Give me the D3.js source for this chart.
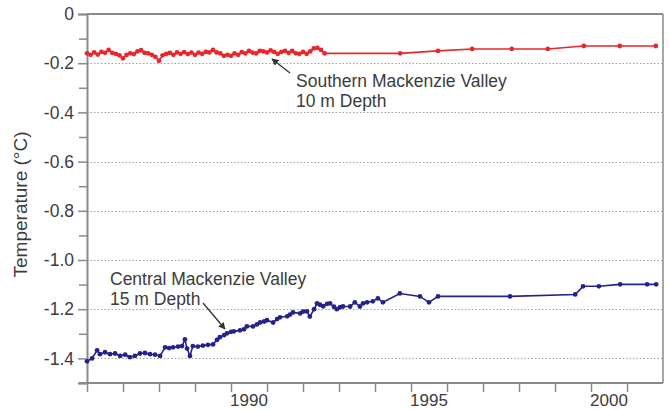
<!DOCTYPE html>
<html>
<head>
<meta charset="utf-8">
<script src="https://cdn.jsdelivr.net/npm/d3@7"></script>
<style>
body { margin: 0; background: #fff; }
svg { display: block; font-family: "Liberation Sans", Arial, sans-serif; }
</style>
</head>
<body>
<div class="container"></div>
<script>
// Southern Mackenzie Valley, 10 m depth
var southYears = [1986.0, 1986.1, 1986.2, 1986.3, 1986.4, 1986.5, 1986.6, 1986.7, 1986.8, 1986.9,
    1987.0, 1987.1, 1987.2, 1987.3, 1987.4, 1987.5, 1987.6, 1987.7, 1987.8, 1987.9,
    1988.0, 1988.1, 1988.2, 1988.3, 1988.4, 1988.5, 1988.6, 1988.7, 1988.8, 1988.9,
    1989.0, 1989.1, 1989.2, 1989.3, 1989.4, 1989.5, 1989.6, 1989.7, 1989.8, 1989.9,
    1990.0, 1990.1, 1990.2, 1990.3, 1990.4, 1990.5, 1990.6, 1990.7, 1990.8, 1990.9,
    1991.0, 1991.1, 1991.2, 1991.3, 1991.4, 1991.5, 1991.6, 1991.7, 1991.8, 1991.9,
    1992.0, 1992.1, 1992.2, 1992.3, 1992.4, 1992.5, 1992.6,
    1994.7, 1995.75, 1996.7, 1997.8, 1998.8, 1999.8, 2000.8, 2001.8];
var southTemps = [-0.160, -0.166, -0.156, -0.165, -0.154, -0.158, -0.146, -0.158, -0.162, -0.168,
    -0.180, -0.166, -0.160, -0.163, -0.152, -0.147, -0.158, -0.160, -0.166, -0.174,
    -0.190, -0.168, -0.162, -0.158, -0.166, -0.156, -0.162, -0.155, -0.163, -0.157,
    -0.166, -0.157, -0.162, -0.154, -0.156, -0.146, -0.156, -0.160, -0.170, -0.166,
    -0.170, -0.160, -0.166, -0.155, -0.160, -0.150, -0.157, -0.160, -0.150, -0.152,
    -0.156, -0.148, -0.154, -0.162, -0.154, -0.150, -0.158, -0.150, -0.160, -0.162,
    -0.154, -0.162, -0.152, -0.140, -0.138, -0.146, -0.160,
    -0.160, -0.150, -0.142, -0.142, -0.142, -0.130, -0.130, -0.130];

// Central Mackenzie Valley, 15 m depth
var centralYears = [1986.00, 1986.14, 1986.28, 1986.36, 1986.50, 1986.64, 1986.78, 1986.92, 1987.06, 1987.19,
    1987.33, 1987.47, 1987.61, 1987.75, 1987.89, 1988.03, 1988.17, 1988.28, 1988.39, 1988.53,
    1988.64, 1988.72, 1988.78, 1988.86, 1988.94, 1989.08, 1989.22, 1989.36, 1989.50, 1989.61,
    1989.69, 1989.81, 1989.89, 1990.00, 1990.08, 1990.25, 1990.36, 1990.44, 1990.61, 1990.72,
    1990.81, 1990.92, 1991.00, 1991.17, 1991.28, 1991.36, 1991.56, 1991.64, 1991.72, 1991.92,
    1992.00, 1992.11, 1992.19, 1992.31, 1992.39, 1992.47, 1992.56, 1992.67, 1992.75, 1992.86,
    1992.94, 1993.03, 1993.11, 1993.31, 1993.44, 1993.58, 1993.67, 1993.78, 1993.94, 1994.08,
    1994.22, 1994.69, 1995.25, 1995.50, 1995.75, 1997.75, 1999.56, 1999.78, 2000.22, 2000.81,
    2001.56, 2001.81];
var centralTemps = [-1.412, -1.400, -1.367, -1.383, -1.375, -1.383, -1.380, -1.390, -1.385, -1.395,
    -1.390, -1.380, -1.378, -1.383, -1.385, -1.390, -1.355, -1.358, -1.355, -1.352,
    -1.350, -1.323, -1.360, -1.390, -1.350, -1.352, -1.348, -1.345, -1.343, -1.325,
    -1.314, -1.305, -1.298, -1.292, -1.290, -1.286, -1.282, -1.270, -1.270, -1.262,
    -1.254, -1.250, -1.245, -1.254, -1.240, -1.233, -1.229, -1.222, -1.213, -1.217,
    -1.210, -1.209, -1.230, -1.200, -1.176, -1.182, -1.188, -1.178, -1.176, -1.190,
    -1.200, -1.192, -1.189, -1.189, -1.172, -1.189, -1.176, -1.172, -1.168, -1.156,
    -1.172, -1.136, -1.148, -1.172, -1.148, -1.148, -1.140, -1.107, -1.107, -1.099,
    -1.099, -1.099];

var yMajorTicks = [0, -0.2, -0.4, -0.6, -0.8, -1.0, -1.2, -1.4];
var yTickLabels = ["0", "-0.2", "-0.4", "-0.6", "-0.8", "-1.0", "-1.2", "-1.4"];
var yMinorTicks = [-0.1, -0.3, -0.5, -0.7, -0.9, -1.1, -1.3, -1.5];
var xYearTicks = [1986, 1987, 1988, 1989, 1990, 1991, 1992, 1993, 1994, 1995, 1996, 1997, 1998, 1999, 2000, 2001];
var xLabelYears = [1990, 1995, 2000];
var xTickLabels = ["1990", "1995", "2000"];

const WIDTH = 669;
const HEIGHT = 410;
const LEFT = 87, TOP = 14, RIGHT = 663, BOTTOM = 383;

var svg = d3.select('.container').append('svg')
    .attr('width', WIDTH)
    .attr('height', HEIGHT);

var xScale = d3.scaleLinear().domain([1986, 2002]).range([LEFT, RIGHT]);
var yScale = d3.scaleLinear().domain([-1.5, 0]).range([BOTTOM, TOP]);

var axisColor = '#8a8a8a';
var textColor = '#3c3c3c';

// dotted grid
svg.append('g').selectAll('line')
    .data(yMajorTicks.slice(1))
    .enter().append('line')
    .attr('x1', LEFT).attr('x2', RIGHT)
    .attr('y1', function (d) { return Math.round(yScale(d)) + 0.5; })
    .attr('y2', function (d) { return Math.round(yScale(d)) + 0.5; })
    .attr('stroke', '#a0a0a0')
    .attr('stroke-width', 1)
    .attr('stroke-dasharray', '1.5,2');

// frame top / right
svg.append('line').attr('x1', LEFT).attr('x2', RIGHT).attr('y1', TOP).attr('y2', TOP)
    .attr('stroke', axisColor).attr('stroke-width', 2);
svg.append('line').attr('x1', RIGHT).attr('x2', RIGHT).attr('y1', TOP).attr('y2', BOTTOM)
    .attr('stroke', axisColor).attr('stroke-width', 1.5);

var yAxis = svg.append('g')
    .attr('transform', 'translate(' + LEFT + ',0)')
    .call(d3.axisLeft(yScale).tickValues(yMajorTicks).tickSize(9).tickPadding(4)
        .tickFormat(function (d, i) { return yTickLabels[i]; }));
var yMinor = svg.append('g')
    .attr('transform', 'translate(' + LEFT + ',0)')
    .call(d3.axisLeft(yScale).tickValues(yMinorTicks).tickSize(8).tickFormat(''));

var xAxis = svg.append('g')
    .attr('transform', 'translate(0,' + BOTTOM + ')')
    .call(d3.axisBottom(xScale).tickValues(xYearTicks).tickSize(9).tickFormat(''));

[yAxis, yMinor, xAxis].forEach(function (g) {
    g.select('.domain').attr('stroke', axisColor).attr('stroke-width', 2);
    g.selectAll('.tick line').attr('stroke', axisColor).attr('stroke-width', 1.5);
    g.selectAll('.tick text').attr('fill', textColor)
        .style('font-size', '17.5px').style('font-family', '"Liberation Sans", Arial, sans-serif');
});
yMinor.select('.domain').remove();
xAxis.select('.domain').attr('d', 'M' + (LEFT - 8) + ',0H' + RIGHT);

svg.append('g').selectAll('text')
    .data(xLabelYears)
    .enter().append('text')
    .attr('x', function (d) { return xScale(d + 0.5); })
    .attr('y', 406)
    .attr('text-anchor', 'middle')
    .attr('fill', textColor)
    .style('font-size', '17px')
    .text(function (d, i) { return xTickLabels[i]; });

svg.append('text')
    .attr('transform', 'translate(27,' + ((TOP + BOTTOM) / 2 + 6) + ') rotate(-90)')
    .attr('text-anchor', 'middle')
    .attr('fill', textColor)
    .style('font-size', '19px')
    .text('Temperature (°C)');

// series
var line = d3.line()
    .x(function (d) { return xScale(d[0]); })
    .y(function (d) { return yScale(d[1]); });

var drawSeries = function (years, temps, color) {
    var pts = d3.zip(years, temps);
    svg.append('path')
        .attr('d', line(pts))
        .attr('fill', 'none')
        .attr('stroke', color)
        .attr('stroke-width', 1.6);
    svg.append('g').selectAll('circle')
        .data(pts)
        .enter().append('circle')
        .attr('cx', function (d) { return xScale(d[0]); })
        .attr('cy', function (d) { return yScale(d[1]); })
        .attr('r', 2.4)
        .attr('fill', color);
};
drawSeries(southYears, southTemps, '#e8262c');
drawSeries(centralYears, centralTemps, '#25238a');

// annotations
svg.append('defs').append('marker')
    .attr('id', 'arrow')
    .attr('viewBox', '0 0 10 10')
    .attr('refX', 9).attr('refY', 5)
    .attr('markerWidth', 7).attr('markerHeight', 7)
    .attr('markerUnits', 'userSpaceOnUse')
    .attr('orient', 'auto')
    .append('path').attr('d', 'M0,0L10,5L0,10z').attr('fill', '#333');

var annotate = function (lines, tx, ty, ax1, ay1, ax2, ay2) {
    var t = svg.append('text')
        .attr('fill', textColor)
        .style('font-size', '17.5px');
    lines.forEach(function (s, i) {
        t.append('tspan').attr('x', tx).attr('y', ty + i * 20).text(s);
    });
    svg.append('line')
        .attr('x1', ax1).attr('y1', ay1).attr('x2', ax2).attr('y2', ay2)
        .attr('stroke', '#333').attr('stroke-width', 1.3)
        .attr('marker-end', 'url(#arrow)');
};
annotate(['Southern Mackenzie Valley', '10 m Depth'], 296, 87, 290, 73, 272, 59);
annotate(['Central Mackenzie Valley', '15 m Depth'], 110, 285, 203, 303, 225, 329);
</script>
</body>
</html>
